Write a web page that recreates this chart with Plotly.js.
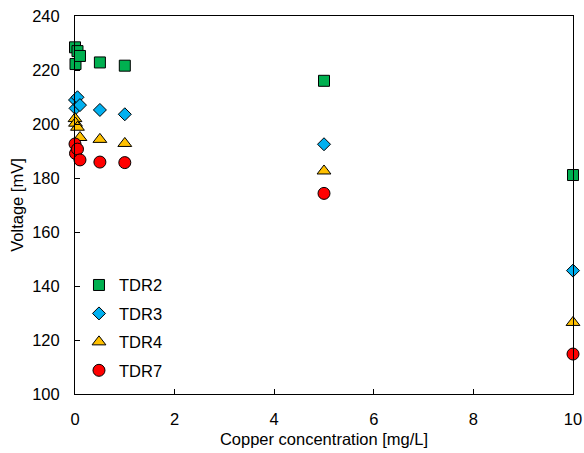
<!DOCTYPE html>
<html>
<head>
<meta charset="utf-8">
<script src="https://cdn.plot.ly/plotly-3.0.1.min.js"></script>
<style>html,body{margin:0;padding:0;background:#fff;}#chart{width:584px;height:453px;}</style>
</head>
<body>
<div id="chart"></div>
<script>
// Copper concentration [mg/L]
const concentration = [0, 0.01, 0.05, 0.1, 0.5, 1, 5, 10];
// Voltage [mV] per sensor
const tdr2 = [228.4, 222.2, 227.0, 225.2, 222.8, 221.6, 216.0, 181.1];
const tdr3 = [208.9, 205.8, 209.9, 207.0, 205.2, 203.6, 192.5, 145.7];
const tdr4 = [202.0, 200.3, 198.8, 195.0, 194.3, 192.8, 182.6, 126.5];
const tdr7 = [192.6, 189.1, 190.7, 186.7, 185.9, 185.7, 174.3, 114.8];
const seriesNames = ["TDR2", "TDR3", "TDR4", "TDR7"];

const FONT = "Liberation Sans, Arial, sans-serif";
const FS = 16.5;
const styles = [
  {symbol: "square", color: "#00B050", size: 11},
  {symbol: "diamond", color: "#00B0F0", size: 10},
  {symbol: "triangle-up", color: "#FFC000", size: 12},
  {symbol: "circle", color: "#FF0000", size: 12}
];
const values = [tdr2, tdr3, tdr4, tdr7];

const traces = values.map((v, i) => ({
  type: "scatter",
  mode: "markers",
  x: concentration,
  y: v,
  name: seriesNames[i],
  legendgroup: seriesNames[i],
  marker: {
    symbol: styles[i].symbol,
    color: styles[i].color,
    size: styles[i].size,
    line: {color: "#000000", width: 1}
  },
  cliponaxis: false
}));

const layout = {
  width: 584,
  height: 453,
  margin: {l: 75, r: 11, t: 16, b: 59},
  paper_bgcolor: "#ffffff",
  plot_bgcolor: "#ffffff",
  font: {family: FONT, size: FS, color: "#000000"},
  showlegend: true,
  legend: {
    x: 0.008, y: 0.334, xanchor: "left", yanchor: "top",
    bgcolor: "rgba(0,0,0,0)",
    font: {family: FONT, size: FS, color: "#000000"},
    traceorder: "grouped",
    tracegroupgap: 4,
    itemwidth: 30
  },
  xaxis: {
    range: [0, 10],
    dtick: 2,
    tick0: 0,
    showgrid: false,
    zeroline: false,
    showline: true,
    linecolor: "#000000",
    linewidth: 1,
    mirror: true,
    ticks: "inside",
    ticklen: 5,
    tickcolor: "#000000",
    ticklabelstandoff: 10,
    tickfont: {family: FONT, size: FS, color: "#000000"},
    title: {text: "Copper concentration [mg/L]", font: {family: FONT, size: FS, color: "#000000"}, standoff: 6}
  },
  yaxis: {
    range: [100, 240],
    dtick: 20,
    tick0: 100,
    showgrid: false,
    zeroline: false,
    showline: true,
    linecolor: "#000000",
    linewidth: 1,
    mirror: true,
    ticks: "inside",
    ticklen: 5,
    tickcolor: "#000000",
    ticklabelstandoff: 11,
    tickfont: {family: FONT, size: FS, color: "#000000"},
    title: {text: "Voltage [mV]", font: {family: FONT, size: FS, color: "#000000"}, standoff: 4}
  }
};

Plotly.newPlot("chart", traces, layout, {displayModeBar: false, staticPlot: true});
</script>
</body>
</html>
